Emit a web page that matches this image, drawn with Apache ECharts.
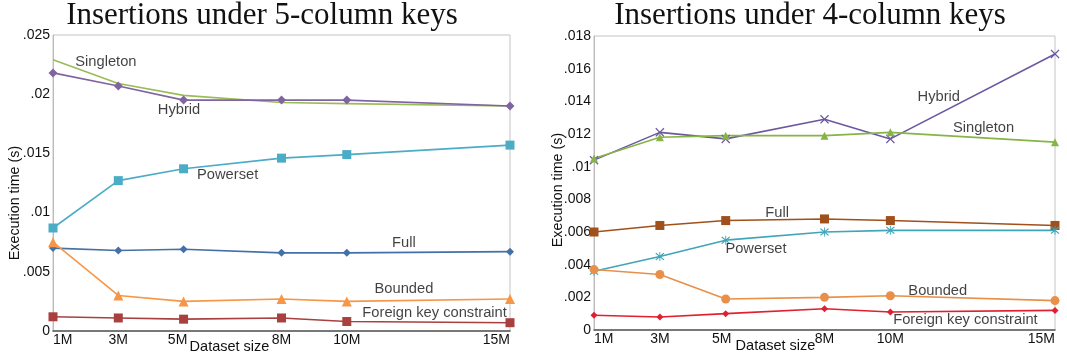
<!DOCTYPE html>
<html>
<head>
<meta charset="utf-8">
<script src="https://cdn.jsdelivr.net/npm/echarts@6/dist/echarts.min.js"></script>
<style>
  html, body { margin: 0; padding: 0; background: #fff; }
  #chart { width: 1067px; height: 358px; }
</style>
</head>
<body>
<div id="chart"></div>
<script>
// Dataset sizes (millions of rows) used as x positions on both panels
const sizes = [1, 3, 5, 8, 10, 15];

// Insertions under 5-column keys (seconds)
const k5Singleton = [0.0229, 0.0209, 0.0199, 0.0193, 0.0192, 0.0190];
const k5Hybrid    = [0.0218, 0.0207, 0.0195, 0.0195, 0.0195, 0.0190];
const k5Powerset  = [0.0087, 0.0127, 0.0137, 0.0146, 0.0149, 0.0157];
const k5Full      = [0.0070, 0.0068, 0.0069, 0.0066, 0.0066, 0.0067];
const k5Bounded   = [0.0075, 0.0030, 0.0025, 0.0027, 0.0025, 0.0027];
const k5Foreign   = [0.0012, 0.0011, 0.0010, 0.0011, 0.0008, 0.0007];

// Insertions under 4-column keys (seconds)
const k4Hybrid    = [0.0104, 0.0121, 0.0117, 0.0129, 0.0117, 0.0169];
const k4Singleton = [0.0105, 0.0118, 0.0119, 0.0119, 0.0121, 0.0115];
const k4Full      = [0.0060, 0.0064, 0.0067, 0.0068, 0.0067, 0.0064];
const k4Powerset  = [0.0036, 0.0045, 0.0055, 0.0060, 0.0061, 0.0061];
const k4Bounded   = [0.0037, 0.0034, 0.0019, 0.0020, 0.0021, 0.0018];
const k4Foreign   = [0.0009, 0.0008, 0.0010, 0.0013, 0.0011, 0.0012];

// Series captions placed in data coordinates [size, seconds]
const k5Captions = [
  ['Singleton', 2.62, 0.0227],
  ['Hybrid', 4.86, 0.0187],
  ['Powerset', 6.35, 0.0132],
  ['Full', 11.75, 0.0074],
  ['Bounded', 11.75, 0.00355],
  ['Foreign key constraint', 12.69, 0.0015]
];
const k4Captions = [
  ['Hybrid', 11.47, 0.01428],
  ['Singleton', 12.83, 0.01235],
  ['Full', 6.56, 0.00714],
  ['Powerset', 5.92, 0.00494],
  ['Bounded', 11.44, 0.00239],
  ['Foreign key constraint', 12.28, 0.00061]
];

const titles = ['Insertions under 5-column keys', 'Insertions under 4-column keys'];

const SANS = 'Liberation Sans, Arial, sans-serif';
const crossPath = 'path://M0,1L1,0L5,4L9,0L10,1L6,5L10,9L9,10L5,6L1,10L0,9L4,5Z';
const starPath = 'path://M0,1L1,0L5,4L9,0L10,1L6,5L10,9L9,10L5,6L1,10L0,9L4,5Z M4.5,-1L5.5,-1L5.5,11L4.5,11Z';

function pairs(values) {
  return sizes.map((s, i) => [s, values[i]]);
}

function line(idx, values, color, symbol, size) {
  return {
    type: 'line',
    xAxisIndex: idx,
    yAxisIndex: idx,
    data: pairs(values),
    symbol: symbol,
    symbolSize: size,
    showSymbol: symbol !== 'none',
    lineStyle: { color: color, width: 1.6 },
    itemStyle: { color: color },
    emphasis: { disabled: true },
    silent: true,
    z: 3
  };
}

function captions(idx, list) {
  return {
    type: 'scatter',
    xAxisIndex: idx,
    yAxisIndex: idx,
    data: list.map(c => ({ value: [c[1], c[2]], name: c[0] })),
    symbolSize: 0,
    silent: true,
    label: {
      show: true,
      position: 'inside',
      formatter: p => p.name,
      color: '#111',
      fontFamily: SANS,
      fontSize: 14.7
    },
    z: 5
  };
}

function tickText(v) {
  return v === 0 ? '0' : String(+v.toFixed(4)).replace(/^0\./, '.');
}

// x labels: "5M" nudged left and "8M" lifted so the axis title fits between them
function sizeText(v) {
  if (v === 5) return '{l|5M}';
  if (v === 8) return '{u|8M}';
  return v + 'M';
}
const sizeRich = (shiftLeft, lift) => ({
  l: { fontFamily: SANS, fontSize: 14, color: '#111', padding: [0, shiftLeft, 0, 0] },
  u: { fontFamily: SANS, fontSize: 14, color: '#111', padding: [0, 0, lift, 0] }
});

const grids = [
  { left: 53, top: 35, width: 457, height: 296 },
  { left: 594, top: 36, width: 461, height: 294 }
];

const xAxes = grids.map((g, i) => ({
  type: 'value',
  gridIndex: i,
  min: 1,
  max: 15,
  name: 'Dataset size',
  nameLocation: 'middle',
  nameGap: 8,
  nameMoveOverlap: false,
  nameTextStyle: {
    fontFamily: SANS, fontSize: 14.5, color: '#111',
    padding: i === 0 ? [0, 104, 0, 0] : [0, 98, 0, 0]
  },
  splitLine: { show: false },
  axisTick: { show: false },
  axisLine: { show: true, lineStyle: { color: '#555', width: 1.5 } },
  axisLabel: {
    customValues: sizes,
    formatter: sizeText,
    rich: i === 0 ? sizeRich(12, 4) : sizeRich(8, 8),
    fontFamily: SANS,
    fontSize: 14,
    color: '#111',
    margin: 2,
    alignMinLabel: 'left',
    alignMaxLabel: 'right'
  }
}));

const yAxes = [
  { max: 0.025, interval: 0.005, gap: 31, shift: 40 },
  { max: 0.018, interval: 0.002, gap: 29, shift: 14 }
].map((a, i) => ({
  type: 'value',
  gridIndex: i,
  min: 0,
  max: a.max,
  interval: a.interval,
  name: 'Execution time (s)',
  nameLocation: 'middle',
  nameGap: a.gap,
  nameRotate: 90,
  nameMoveOverlap: false,
  nameTextStyle: {
    fontFamily: SANS, fontSize: 14.3, color: '#111',
    padding: [0, a.shift, 0, 0]
  },
  splitLine: { show: false },
  axisTick: { show: false },
  axisLine: { show: true, lineStyle: { color: '#bbb', width: 1 } },
  axisLabel: {
    formatter: tickText,
    fontFamily: SANS,
    fontSize: 14,
    color: '#111',
    margin: 3
  }
}));

const option = {
  animation: false,
  backgroundColor: '#fff',
  title: titles.map((t, i) => ({
    text: t,
    left: i === 0 ? 257 : 805,
    top: -5,
    textAlign: 'center',
    textStyle: {
      fontFamily: 'Liberation Serif, DejaVu Serif, serif',
      fontWeight: 'normal',
      fontSize: 31,
      color: '#111'
    }
  })),
  grid: grids.map(g => Object.assign({
    show: true,
    borderColor: '#c4c4c4',
    borderWidth: 1,
    outerBoundsMode: 'none',
    containLabel: false
  }, g)),
  xAxis: xAxes,
  yAxis: yAxes,
  series: [
    line(0, k5Singleton, '#9BBB59', 'none', 0),
    line(0, k5Hybrid, '#8064A2', 'diamond', 9),
    line(0, k5Powerset, '#4BACC6', 'rect', 9),
    line(0, k5Full, '#4470A8', 'diamond', 8),
    line(0, k5Bounded, '#F79646', 'triangle', 10),
    line(0, k5Foreign, '#A8403F', 'rect', 9),
    captions(0, k5Captions),

    line(1, k4Hybrid, '#6B58A0', crossPath, 9),
    line(1, k4Singleton, '#86B446', 'triangle', 8),
    line(1, k4Full, '#A0501A', 'rect', 9),
    line(1, k4Powerset, '#3FA5B8', starPath, 9),
    line(1, k4Bounded, '#E8904A', 'circle', 9),
    line(1, k4Foreign, '#E02030', 'diamond', 7),
    captions(1, k4Captions)
  ]
};

const chart = echarts.init(document.getElementById('chart'), null, { renderer: 'canvas' });
chart.setOption(option);
</script>
</body>
</html>
